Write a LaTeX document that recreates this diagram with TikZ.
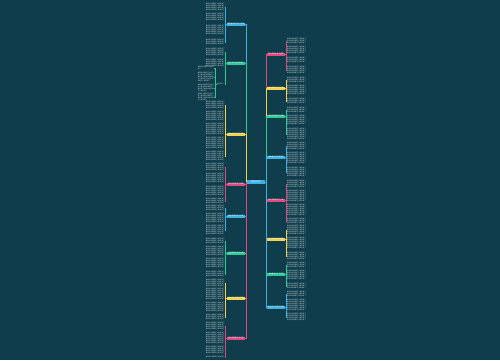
\documentclass[tikz,border=0pt]{standalone}
\usepackage{fontspec}
\newfontfamily\cjk{Noto Sans CJK SC}
\XeTeXlinebreaklocale "zh"
\XeTeXlinebreakskip=0pt plus 0.5pt
\usepackage{xcolor}
\usetikzlibrary{positioning}

\definecolor{bgteal}{HTML}{0F3D4B}
\definecolor{cblue}{HTML}{3DB3E3}
\definecolor{cgreen}{HTML}{2CCB98}
\definecolor{cyellow}{HTML}{F4D04C}
\definecolor{cpink}{HTML}{E2487D}
\definecolor{leafc}{HTML}{D3DEE1}

% filler lines of a leaf paragraph, one phrase per line
\newcommand\leaftext[1]{\foreach \k in {1,...,#1}{春风吹过田野花儿都开放了}}

\begin{document}
\begin{tikzpicture}[
    x=1pt, y=-1pt,
    hub/.style={rectangle, fill=cblue, minimum width=18pt, minimum height=3.8pt,
                inner sep=0pt, text=white, font=\cjk\fontsize{1.9}{2}\selectfont},
    branch/.style={rectangle, minimum width=18pt, minimum height=3pt,
                   inner sep=0pt, text=white, font=\cjk\fontsize{1.7}{2}\selectfont},
    leaf/.style={inner sep=0pt, text width=19pt, align=left, text=leafc,
                 font=\cjk\fontsize{1.55}{2}\selectfont},
    link/.style={line width=0.35pt}
  ]
  \useasboundingbox (0,0) rectangle (500,360);
  \fill[bgteal] (0,0) rectangle (500,360);

  \node[hub] (c) at (256,182) {春天的作文};

  % left branches
  \foreach \b/\col/\y/\txt in {l1/cblue/24/描写春天的作文三百字, l2/cgreen/63/春天来了作文四百字,
      l3/cyellow/134/寻找春天的作文五篇, l4/cpink/184/春天的校园作文精选,
      l5/cblue/216/春天的雨作文三百字, l6/cgreen/253/美丽的春天作文六篇,
      l7/cyellow/298/春天的公园作文精选, l8/cpink/338/春天的田野作文五篇} {
    \node[branch, fill=\col] (\b) at (236,\y) {\txt};
    \draw[link, draw=\col] (c.west) -- ++(-1,0) |- (\b.east);
  }

  % right branches
  \foreach \b/\col/\y/\txt in {r1/cpink/54/春天的景色作文精选, r2/cyellow/88/春天的花作文三百字,
      r3/cgreen/116/春天的早晨作文五篇, r4/cblue/157/我爱春天作文四百字,
      r5/cpink/200/春天的故事作文六篇, r6/cyellow/239/春天的声音作文精选,
      r7/cgreen/274/走进春天作文三百字, r8/cblue/307/春天的小草作文五篇} {
    \node[branch, fill=\col] (\b) at (276,\y) {\txt};
    \draw[link, draw=\col] (c.east) -- ++(1,0) |- (\b.west);
  }

  % left leaves
  \foreach \b/\col/\ys in {l1/cblue/{7/4,17/4,30/5,42/3}, l2/cgreen/{52/4,63/4},
      l3/cyellow/{105/4,116/5,129/6,143/6,156/5}, l4/cpink/{167/4,178/5,191/5,201/3},
      l5/cblue/{208/3,218/5,230/5}, l6/cgreen/{241/3,251/5,263/5,274/3},
      l7/cyellow/{283/4,294/6,307/5,317/3}, l8/cpink/{326/4,338/6,350/4,357/1}} {
    \foreach \y/\n [count=\i] in \ys {
      \node[leaf, anchor=east] (\b-\i) at (225,\y) {\leaftext{\n}};
      \draw[link, draw=\col] (\b.west) -- ++(-1.5,0) |- (\b-\i.east);
    }
  }

  % sub topic under the green branch
  \node[leaf, anchor=east, text width=8pt] (l2-s) at (225,84) {相关范文};
  \draw[link, draw=cgreen] (l2.west) -- ++(-1.5,0) |- (l2-s.east);
  \foreach \y/\n [count=\i] in {68/1,77/4,88/3,97/3} {
    \node[leaf, anchor=east, text width=16pt] (l2-s\i) at (214,\y) {\leaftext{\n}};
    \draw[link, draw=cgreen] (l2-s.west) -- ++(-1,0) |- (l2-s\i.east);
  }

  % right leaves
  \foreach \b/\col/\ys in {r1/cpink/{41/3,50/4,60/3,70/4}, r2/cyellow/{80/3,90/5,101/3},
      r3/cgreen/{110/3,120/5,134/6}, r4/cblue/{146/4,158/6,172/5},
      r5/cpink/{184/4,196/6,210/6,221/3}, r6/cyellow/{230/5,243/6,256/4},
      r7/cgreen/{265/3,275/5,286/3}, r8/cblue/{294/3,305/6,317/4}} {
    \foreach \y/\n [count=\i] in \ys {
      \node[leaf, anchor=west] (\b-\i) at (287,\y) {\leaftext{\n}};
      \draw[link, draw=\col] (\b.east) -- ++(1,0) |- (\b-\i.west);
    }
  }
\end{tikzpicture}
\end{document}
